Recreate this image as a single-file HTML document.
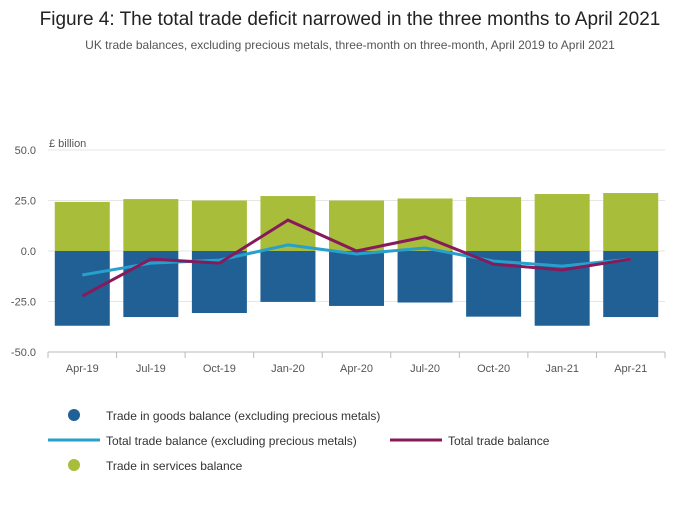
<!DOCTYPE html>
<html><head><meta charset="utf-8"><style>
body{margin:0;background:#fff;font-family:"Liberation Sans",sans-serif;}
svg text{font-family:"Liberation Sans",sans-serif;}
</style></head><body>
<svg width="700" height="502" xmlns="http://www.w3.org/2000/svg">
<text x="350" y="25" text-anchor="middle" font-size="19" fill="#222">Figure 4: The total trade deficit narrowed in the three months to April 2021</text>
<text x="350" y="49" text-anchor="middle" font-size="12" fill="#555">UK trade balances, excluding precious metals, three-month on three-month, April 2019 to April 2021</text>
<text x="49" y="147" font-size="11" fill="#555">£ billion</text>
<g id="grid"></g><g id="bars"></g><g id="lines"></g><g id="xaxis"></g>
<g>
<circle cx="74" cy="415" r="6" fill="#206095"/>
<text x="106" y="420" font-size="12" fill="#333">Trade in goods balance (excluding precious metals)</text>
<line x1="48" y1="440" x2="100" y2="440" stroke="#27a0cc" stroke-width="3"/>
<text x="106" y="445" font-size="12" fill="#333">Total trade balance (excluding precious metals)</text>
<line x1="390" y1="440" x2="442" y2="440" stroke="#871a5b" stroke-width="3"/>
<text x="448" y="445" font-size="12" fill="#333">Total trade balance</text>
<circle cx="74" cy="465" r="6" fill="#a8bd3a"/>
<text x="106" y="470" font-size="12" fill="#333">Trade in services balance</text>
</g>
</svg>
<script>
const categories=["Apr-19","Jul-19","Oct-19","Jan-20","Apr-20","Jul-20","Oct-20","Jan-21","Apr-21"];
const goods=[-37,-32.7,-30.7,-25.2,-27.2,-25.5,-32.5,-37,-32.7];
const services=[24.3,25.7,25,27.2,25,26,26.7,28.2,28.7];
const totalExcl=[-11.9,-6,-4.5,3,-1.5,1.5,-5,-7.5,-4];
const total=[-22.3,-4,-6,15.3,0,7,-6.5,-9.4,-4];
const yTicks=[50,25,0,-25,-50];
const yTickLabels=["50.0","25.0","0.0","-25.0","-50.0"];
const NS="http://www.w3.org/2000/svg";
const x0=48,x1=665,yTop=150,yBot=352;
const y=v=>yTop+(50-v)/100*(yBot-yTop);
const band=(x1-x0)/categories.length;
const xc=i=>x0+band*(i+0.5);
function mk(tag,attrs,parent){const e=document.createElementNS(NS,tag);for(const k in attrs)e.setAttribute(k,attrs[k]);document.getElementById(parent).appendChild(e);return e;}
yTicks.forEach((t,i)=>{
 const l=mk('line',{x1:x0,x2:x1,y1:y(t),y2:y(t),stroke:t===-50?'#bbb':'#e6e6e6'},'grid');
 
 
 const tx=mk('text',{x:x0-12,y:y(t)+4,'text-anchor':'end','font-size':11,fill:'#555'},'grid');
 tx.textContent=yTickLabels[i];
 
 
});
const bw=55;
categories.forEach((c,i)=>{
 const g=mk('rect',{x:xc(i)-bw/2,y:y(0),width:bw,height:y(goods[i])-y(0),fill:'#206095'},'bars');
 
 
 const s=mk('rect',{x:xc(i)-bw/2,y:y(services[i]),width:bw,height:y(0)-y(services[i]),fill:'#a8bd3a'},'bars');
 
 
 const tk=mk('line',{x1:x0+band*i,x2:x0+band*i,y1:yBot,y2:yBot+6,stroke:'#bbb'},'xaxis');
 
 
 const tx=mk('text',{x:xc(i),y:yBot+20,'text-anchor':'middle','font-size':11,fill:'#555'},'xaxis');
 tx.textContent=c;
 
 
});
const tkl=mk('line',{x1:x1,x2:x1,y1:yBot,y2:yBot+6,stroke:'#bbb'},'xaxis');


const p1=mk('polyline',{points:totalExcl.map((v,i)=>xc(i)+','+y(v)).join(' '),fill:'none',stroke:'#27a0cc','stroke-width':3},'lines');


const p2=mk('polyline',{points:total.map((v,i)=>xc(i)+','+y(v)).join(' '),fill:'none',stroke:'#871a5b','stroke-width':3},'lines');


</script>
</body></html>
